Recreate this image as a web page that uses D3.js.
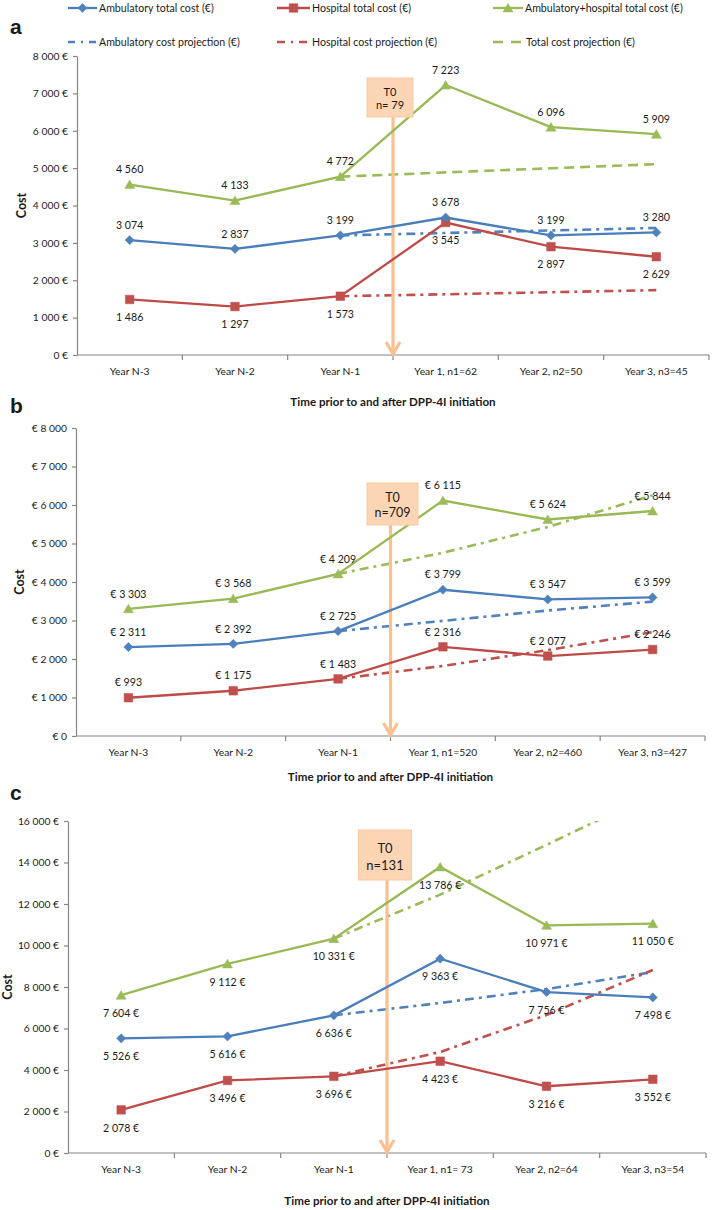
<!DOCTYPE html>
<html><head><meta charset="utf-8">
<script src="https://cdn.jsdelivr.net/npm/d3@7"></script>
<style>
body{margin:0;background:#fff}
svg{display:block}
text{font-family:Lato,'Liberation Sans',sans-serif;fill:#1a1a1a}
</style>
</head><body>
<svg id="chart" width="712" height="1210"></svg>
<script>
// ---------- DATA ----------
const catsA = ["Year N-3","Year N-2","Year N-1","Year 1, n1=62","Year 2, n2=50","Year 3, n3=45"];
const catsB = ["Year N-3","Year N-2","Year N-1","Year 1, n1=520","Year 2, n2=460","Year 3, n3=427"];
const catsC = ["Year N-3","Year N-2","Year N-1","Year 1, n1= 73","Year 2, n2=64","Year 3, n3=54"];

const ambA  = [3074, 2837, 3199, 3678, 3199, 3280];
const hospA = [1486, 1297, 1573, 3545, 2897, 2629];
const totA  = [4560, 4133, 4772, 7223, 6096, 5909];
const ambProjA  = [3199, 3265, 3332, 3400];
const hospProjA = [1573, 1625, 1680, 1735];
const totProjA  = [4772, 4885, 4995, 5107];

const ambB  = [2311, 2392, 2725, 3799, 3547, 3599];
const hospB = [993, 1175, 1483, 2316, 2077, 2246];
const totB  = [3303, 3568, 4209, 6115, 5624, 5844];
const ambProjB  = [2725, 2990, 3260, 3490];
const hospProjB = [1483, 1820, 2230, 2700];
const totProjB  = [4209, 4760, 5430, 6250];

const ambC  = [5526, 5616, 6636, 9363, 7756, 7498];
const hospC = [2078, 3496, 3696, 4423, 3216, 3552];
const totC  = [7604, 9112, 10331, 13786, 10971, 11050];
const ambProjC  = [6636, 7230, 7900, 8720];
const hospProjC = [3696, 4870, 6650, 8820];
const totProjC  = [10331, 12450, 14850, 17300];

const t0Labels = ["n= 79", "n=709", "n=131"];
const panelLetters = ["a", "b", "c"];
const legendLabels = ["Ambulatory total cost (€)", "Hospital total cost (€)", "Ambulatory+hospital total cost (€)",
                      "Ambulatory cost projection (€)", "Hospital cost projection (€)", "Total cost projection (€)"];
const axisTitleX = "Time prior to and after DPP-4I initiation";
const axisTitleY = "Cost";

// ---------- STYLE ----------
const col = {amb: "#4A7EBB", hosp: "#BE4B48", tot: "#98B954"};
const mcol = {amb: "#4F81BD", hosp: "#C0504D", tot: "#9BBB59"};
const axisCol = "#868686";
const arrowCol = "#FAC090";
const boxFill = "#FCD5B5";
const DASHDOT = "9,5,3,5";
const DASH = "10,6";

const sp = v => d3.format(",")(v).replace(/,/g, " ");

const svg = d3.select("#chart");

function marker(sel, type, cx, cy) {
  let d;
  if (type === "amb") d = `M${cx},${cy-4.6}L${cx+4.6},${cy}L${cx},${cy+4.6}L${cx-4.6},${cy}Z`;
  else if (type === "hosp") d = `M${cx-4.3},${cy-4.3}h8.6v8.6h-8.6Z`;
  else d = `M${cx},${cy-4.6}L${cx+5},${cy+4}L${cx-5},${cy+4}Z`;
  sel.append("path").attr("d", d).attr("fill", mcol[type]).attr("stroke", mcol[type]).attr("stroke-width", 0.5);
}

// ---------- LEGEND ----------
(function legend() {
  const items = [
    {type: "amb", x0: 68, x1: 97, y: 8, proj: false},
    {type: "hosp", x0: 277, x1: 310, y: 8, proj: false},
    {type: "tot", x0: 493, x1: 523, y: 8, proj: false},
    {type: "amb", x0: 68, x1: 97, y: 42, proj: true, dash: "7,6,2,6"},
    {type: "hosp", x0: 277, x1: 310, y: 42, proj: true, dash: "8,6,2,6"},
    {type: "tot", x0: 493, x1: 523, y: 42, proj: true, dash: "10,8"}
  ];
  items.forEach((it, i) => {
    const g = svg.append("g");
    g.append("line").attr("x1", it.x0).attr("x2", it.x1).attr("y1", it.y).attr("y2", it.y)
      .attr("stroke", it.proj ? mcol[it.type] : col[it.type]).attr("stroke-width", it.proj ? 2.6 : 2.3)
      .attr("stroke-dasharray", it.proj ? it.dash : null);
    if (!it.proj) marker(g, it.type, (it.x0 + it.x1) / 2, it.y);
    g.append("text").attr("x", it.x1 + (it.type === "tot" && it.proj ? 3 : 2)).attr("y", it.y).attr("dy", "0.35em")
      .attr("font-size", 10.6).text(legendLabels[i]);
  });
})();

// ---------- PANELS ----------
const panels = [
  {cats: catsA, amb: ambA, hosp: hospA, tot: totA, proj: {amb: ambProjA, hosp: hospProjA, tot: totProjA},
   projDash: {amb: DASHDOT, hosp: DASHDOT, tot: DASH},
   yMax: 8000, yStep: 1000, tickFmt: v => sp(v) + " €", lblFmt: v => sp(v),
   lblPos: {amb: -1, hosp: 1, tot: -1},
   left: 77, right: 709, top: 56, bottom: 355, letterY: 27, titleDy: 47, costX: 22,
   box: {w: 46, y0: 78, h: 39, fs: 11, dx: -3}},
  {cats: catsB, amb: ambB, hosp: hospB, tot: totB, proj: {amb: ambProjB, hosp: hospProjB, tot: totProjB},
   projDash: {amb: DASHDOT, hosp: DASHDOT, tot: DASHDOT},
   yMax: 8000, yStep: 1000, tickFmt: v => "€ " + sp(v), lblFmt: v => "€ " + sp(v),
   lblPos: {amb: -1, hosp: -1, tot: -1},
   left: 76, right: 705, top: 428, bottom: 736, letterY: 406, titleDy: 41, costX: 20,
   box: {w: 51, y0: 483, h: 42, fs: 12.5, dx: 2}},
  {cats: catsC, amb: ambC, hosp: hospC, tot: totC, proj: {amb: ambProjC, hosp: hospProjC, tot: totProjC},
   projDash: {amb: DASHDOT, hosp: DASHDOT, tot: DASHDOT},
   yMax: 16000, yStep: 2000, tickFmt: v => sp(v) + " €", lblFmt: v => sp(v) + " €",
   lblPos: {amb: 1, hosp: 1, tot: 1},
   left: 68, right: 706, top: 821, bottom: 1153, letterY: 793, titleDy: 48, costX: 8,
   box: {w: 53, y0: 830, h: 50, fs: 13, dx: -2}}
];

panels.forEach((p, pi) => {
  const x = d3.scalePoint().domain(p.cats).range([p.left, p.right]).padding(0.5);
  const step = x.step();
  const y = d3.scaleLinear().domain([0, p.yMax]).range([p.bottom, p.top]);
  const g = svg.append("g");

  // panel letter
  g.append("text").attr("x", 10).attr("y", p.letterY).attr("dy", "0.35em")
    .attr("font-family", "'Liberation Sans',Arial,sans-serif").attr("font-weight", "bold")
    .attr("font-size", 21).style("font-family", "'Liberation Sans',Arial,sans-serif").text(panelLetters[pi]);

  // y axis
  const ya = g.append("g").attr("transform", `translate(${p.left},0)`)
    .call(d3.axisLeft(y).tickValues(d3.range(0, p.yMax + 1, p.yStep)).tickSize(4).tickSizeOuter(0).tickPadding(5).tickFormat(p.tickFmt));
  ya.select(".domain").attr("stroke", axisCol).attr("stroke-width", 1.2);
  ya.selectAll(".tick line").attr("stroke", axisCol).attr("stroke-width", 1.2);
  ya.selectAll(".tick text").attr("font-size", 10.3).style("font-family", "Lato,sans-serif").attr("fill", "#1a1a1a");

  // x axis
  const xg = g.append("g");
  xg.append("line").attr("x1", p.left).attr("x2", p.left + step * p.cats.length)
    .attr("y1", p.bottom).attr("y2", p.bottom).attr("stroke", axisCol).attr("stroke-width", 1.2);
  d3.range(1, p.cats.length + 1).forEach(i => {
    const bx = x(p.cats[i - 1]) + step / 2;
    xg.append("line").attr("x1", bx).attr("x2", bx).attr("y1", p.bottom).attr("y2", p.bottom + 5)
      .attr("stroke", axisCol).attr("stroke-width", 1.2);
  });
  p.cats.forEach(c => {
    xg.append("text").attr("x", x(c)).attr("y", p.bottom + 16).attr("dy", "0.35em")
      .attr("text-anchor", "middle").attr("font-size", 10.3).text(c);
  });

  // axis titles
  g.append("text").attr("x", (p.left + p.right) / 2).attr("y", p.bottom + p.titleDy).attr("dy", "0.35em")
    .attr("text-anchor", "middle").attr("font-weight", "bold").attr("font-size", 11.6).text(axisTitleX);
  g.append("text").attr("transform", `translate(${p.costX},${(p.top + p.bottom) / 2}) rotate(-90)`)
    .attr("dy", "0.35em").attr("text-anchor", "middle").attr("font-weight", "bold").attr("font-size", 12.5).text(axisTitleY);

  // clip
  const clipId = "clip" + pi;
  svg.append("clipPath").attr("id", clipId).append("rect")
    .attr("x", p.left).attr("y", p.top).attr("width", p.right - p.left + 10).attr("height", p.bottom - p.top);

  // projections
  const projCats = p.cats.slice(2);
  const lineP = d3.line().x((d, i) => x(projCats[i])).y(d => y(d));
  ["amb", "hosp", "tot"].forEach(k => {
    g.append("path").datum(p.proj[k]).attr("d", lineP).attr("fill", "none")
      .attr("stroke", mcol[k]).attr("stroke-width", 2.6).attr("stroke-dasharray", p.projDash[k])
      .attr("clip-path", `url(#${clipId})`);
  });

  // T0 arrow & box
  const tx = x(p.cats[2]) + step / 2;
  const bx = tx + p.box.dx;
  const by1 = p.box.y0 + p.box.h;
  g.append("line").attr("x1", tx).attr("x2", tx).attr("y1", by1).attr("y2", p.bottom - 1)
    .attr("stroke", arrowCol).attr("stroke-width", 3.2);
  g.append("path").attr("d", `M${tx - 7},${p.bottom - 13}L${tx},${p.bottom - 1}L${tx + 7},${p.bottom - 13}`)
    .attr("fill", "none").attr("stroke", arrowCol).attr("stroke-width", 3.2).attr("stroke-linejoin", "miter");

  // actual series
  const lineS = d3.line().x((d, i) => x(p.cats[i])).y(d => y(d));
  ["hosp", "amb", "tot"].forEach(k => {
    g.append("path").datum(p[k]).attr("d", lineS).attr("fill", "none")
      .attr("stroke", col[k]).attr("stroke-width", 2.3);
  });

  // box drawn above lines
  g.append("rect").attr("x", bx - p.box.w / 2).attr("y", p.box.y0).attr("width", p.box.w).attr("height", p.box.h)
    .attr("fill", boxFill).attr("stroke", "#F9C9A0").attr("stroke-width", 1);
  g.append("text").attr("x", bx).attr("y", p.box.y0 + p.box.h * 0.36).attr("dy", "0.35em")
    .attr("text-anchor", "middle").attr("font-size", p.box.fs).text("T0");
  g.append("text").attr("x", bx).attr("y", p.box.y0 + p.box.h * 0.70).attr("dy", "0.35em")
    .attr("text-anchor", "middle").attr("font-size", p.box.fs).text(t0Labels[pi]);

  ["hosp", "amb", "tot"].forEach(k => {
    p[k].forEach((v, i) => marker(g, k, x(p.cats[i]), y(v)));
  });

  // data labels
  ["hosp", "amb", "tot"].forEach(k => {
    p[k].forEach((v, i) => {
      const dir = p.lblPos[k];
      g.append("text").attr("x", x(p.cats[i])).attr("y", y(v) + (dir < 0 ? -15 : 18)).attr("dy", "0.35em")
        .attr("text-anchor", "middle").attr("font-size", 10.6).text(p.lblFmt(v));
    });
  });
});
</script>
</body></html>
